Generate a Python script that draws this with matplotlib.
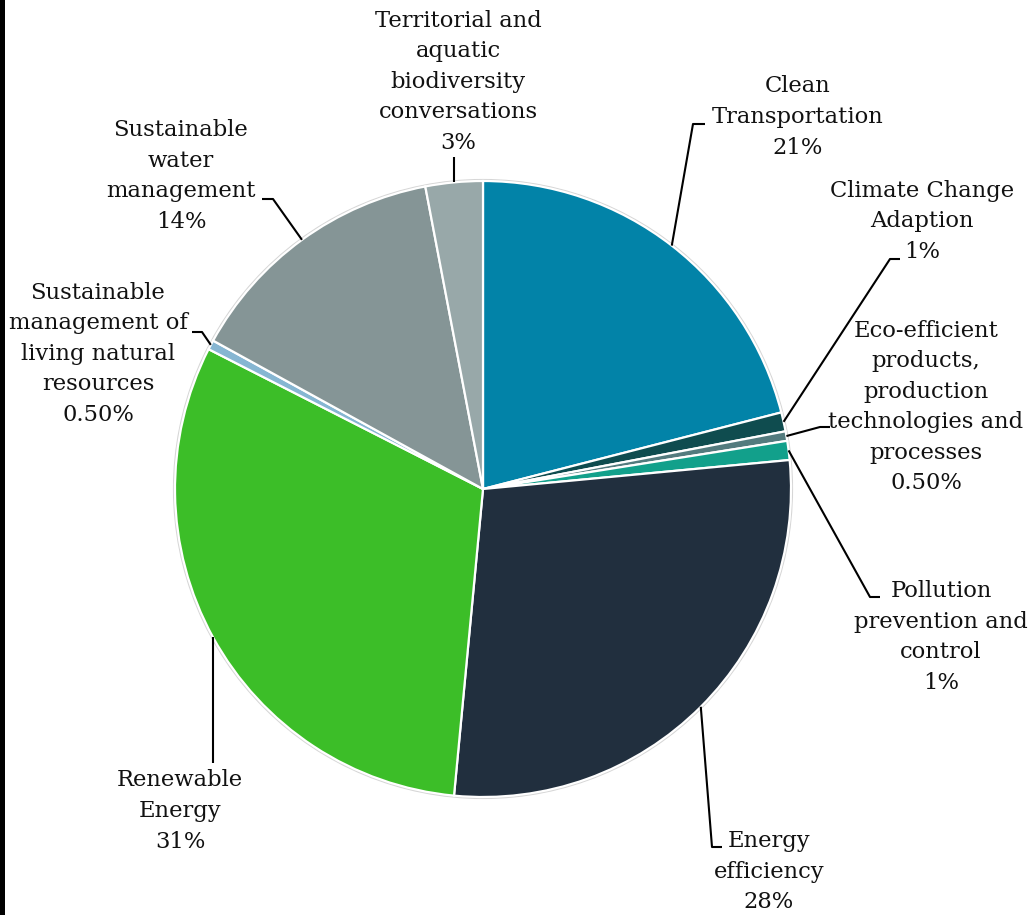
import numpy as np
import matplotlib
matplotlib.use("Agg")
import matplotlib.pyplot as plt
from matplotlib.patches import Rectangle, Circle

# ---------------- data ----------------
categories = [
    "Clean\nTransportation",
    "Climate Change\nAdaption",
    "Eco-efficient\nproducts,\nproduction\ntechnologies and\nprocesses",
    "Pollution\nprevention and\ncontrol",
    "Energy\nefficiency",
    "Renewable\nEnergy",
    "Sustainable\nmanagement of\nliving natural\nresources",
    "Sustainable\nwater\nmanagement",
    "Territorial and\naquatic\nbiodiversity\nconversations",
]
values = [21, 1, 0.5, 1, 28, 31, 0.5, 14, 3]
value_labels = ["21%", "1%", "0.50%", "1%", "28%", "31%", "0.50%", "14%", "3%"]
colors = ["#0283A8", "#0F4C4F", "#537B7E", "#12A08B", "#212F3E",
          "#3CBE28", "#86B6D2", "#859596", "#98A8A9"]

# ---------------- layout (pixels in the 1035x915 canvas) ----------------
W, H = 1035, 915
CX, CY, R = 483, 489, 308

def px(x, y):
    return ((x - CX) / R, (CY - y) / R)

# label block centres
label_pos = [(798, 117), (922, 221), (926, 407), (941, 637), (769, 872),
             (180, 811), (98, 354), (181, 176), (458, 82)]
# leader polylines after the rim point (elbow, end)
leader_pts = [
    [(693, 124), (705, 124)],
    [(890, 259), (900, 259)],
    [(820, 427), (830, 427)],
    [(870, 597), (880, 597)],
    [(712, 847), (722, 847)],
    [None, (213, 763)],
    [(202, 332), (192, 332)],
    [(273, 199), (262, 199)],
    [None, (454, 157)],
]

fig = plt.figure(figsize=(W / 100, H / 100), dpi=100)
fig.patch.set_facecolor("white")
ax = fig.add_axes([0, 0, 1, 1])

# soft outer shadow ring
ax.add_patch(Circle((0, 0), 1.0, facecolor="none", edgecolor="#d6d6d6",
                    lw=3.0, zorder=0))

wedges, _ = ax.pie(values, colors=colors, startangle=90, counterclock=False,
                   radius=1.0, center=(0, 0), frame=True,
                   wedgeprops=dict(edgecolor="white", linewidth=1.6))
ax.set_xlim(-CX / R, (W - CX) / R)
ax.set_ylim((CY - H) / R, CY / R)
ax.set_aspect("auto")
ax.axis("off")

font = dict(family="DejaVu Serif", size=16.3, color="#111111")
for w, cat, vl, pos, pts in zip(wedges, categories, value_labels,
                                label_pos, leader_pts):
    ang = np.deg2rad((w.theta1 + w.theta2) / 2)
    rx, ry = np.cos(ang), np.sin(ang)
    xs, ys = [rx], [ry]
    elbow, end = pts
    if elbow is None:
        ex, ey = px(*end)
        xs += [rx]
        ys += [ey]
    else:
        e1 = px(*elbow)
        e2 = px(*end)
        xs += [e1[0], e2[0]]
        ys += [e1[1], e2[1]]
    ax.plot(xs, ys, color="black", lw=1.5, solid_capstyle="butt", zorder=5)
    tx, ty = px(*pos)
    ax.text(tx, ty, cat + "\n" + vl, ha="center", va="center",
            multialignment="center", linespacing=1.5, **font)

# black strip on the left edge
fig.patches.append(Rectangle((0, 0), 5 / W, 1, transform=fig.transFigure,
                             facecolor="black", edgecolor="none"))

fig.savefig("out.png", dpi=100, facecolor="white")
